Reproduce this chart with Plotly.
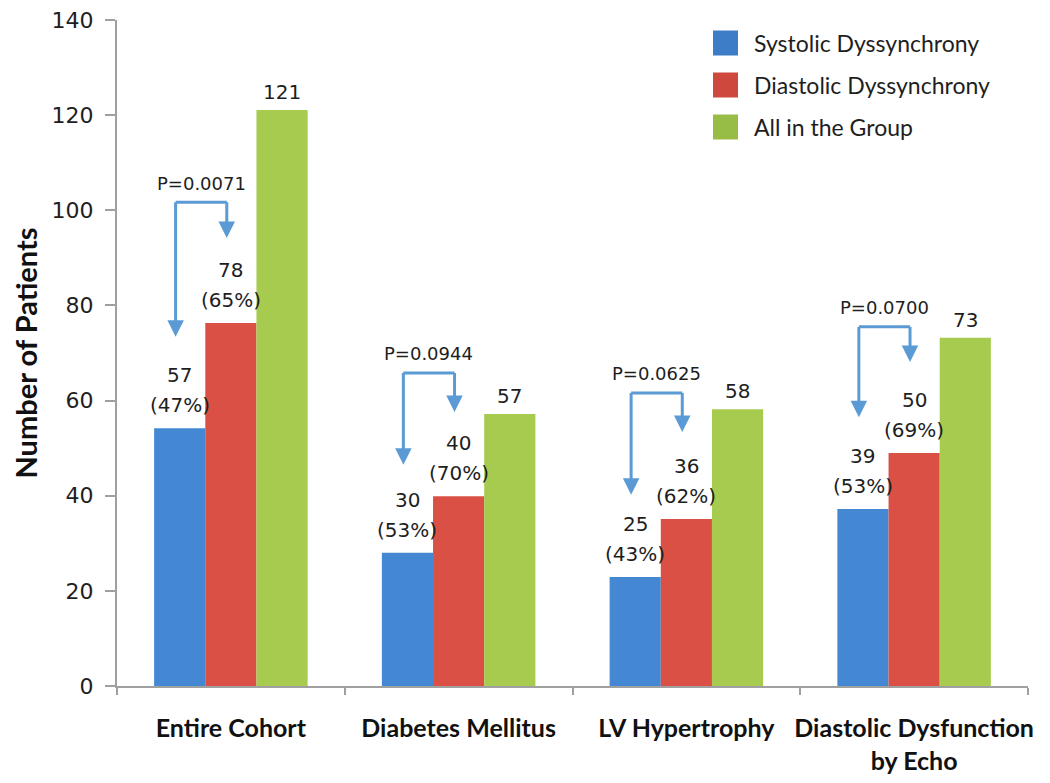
import plotly.graph_objects as go

# ---- data ----
categories = ["Entire Cohort", "Diabetes Mellitus", "LV Hypertrophy", "Diastolic Dysfunction<br>by Echo"]
series_names = ["Systolic Dyssynchrony", "Diastolic Dyssynchrony", "All in the Group"]
systolic = [54.2, 28.0, 22.9, 37.2]
diastolic = [76.3, 39.9, 35.1, 49.0]
all_group = [121.1, 57.2, 58.2, 73.2]
systolic_counts = [57, 30, 25, 39]
diastolic_counts = [78, 40, 36, 50]
all_counts = [121, 57, 58, 73]
systolic_pct = [47, 53, 43, 53]
diastolic_pct = [65, 70, 62, 69]
p_values = ["0.0071", "0.0944", "0.0625", "0.0700"]
bracket_top = [101.7, 65.8, 61.6, 75.5]
systolic_arrow_tip = [73.4, 46.5, 40.2, 56.5]
diastolic_arrow_tip = [94.2, 57.6, 53.4, 68.1]
y_ticks = [0, 20, 40, 60, 80, 100, 120, 140]

# ---- style ----
bar_colors = ["#4487D3", "#DA5045", "#A6CB4E"]
legend_colors = ["#3D7DC8", "#CF483E", "#98BD47"]
arrow_color = "#5B9BD5"
axis_color = "#A0A0A0"
text_color = "#1E1E1E"
num_font = "DejaVu Sans"
label_font = "Lato"
BARGAP = 0.326
bw = (1 - BARGAP) / 3

# page offset (default body margin) and target plot-area in window pixels
OFF = 8
W, H = 1050 - OFF, 783 - OFF
PL, PR, PT, PB = 117, 1028, 20, 686
L = PL - OFF
R = W - (PR - OFF)
T = PT - OFF
B = H - (PB - OFF)
pw, ph = PR - PL, PB - PT

def px(x):
    return (x - PL) / pw

def py(y):
    return (PB - y) / ph

fig = go.Figure()
for name, vals, col in zip(series_names, [systolic, diastolic, all_group], bar_colors):
    fig.add_trace(go.Bar(x=categories, y=vals, name=name, showlegend=False,
                         marker=dict(color=col, line=dict(width=0))))

annotations = []
shapes = []
for i in range(len(categories)):
    xb, xr, xg = i - bw, i, i + bw
    annotations += [
        dict(x=xb, y=systolic[i], text=str(systolic_counts[i]), yshift=53),
        dict(x=xb, y=systolic[i], text=f"({systolic_pct[i]}%)", yshift=23),
        dict(x=xr, y=diastolic[i], text=str(diastolic_counts[i]), yshift=53),
        dict(x=xr, y=diastolic[i], text=f"({diastolic_pct[i]}%)", yshift=23),
        dict(x=xg, y=all_group[i], text=str(all_counts[i]), yshift=18),
    ]
    x_left = i - bw - 0.018
    x_right = i - 0.018
    shapes.append(dict(type="line", xref="x", yref="y", x0=x_left, x1=x_right,
                       y0=bracket_top[i], y1=bracket_top[i],
                       line=dict(color=arrow_color, width=3)))
    for xa, tip in [(x_left, systolic_arrow_tip[i]), (x_right, diastolic_arrow_tip[i])]:
        annotations.append(dict(x=xa, y=tip, ax=xa, ay=bracket_top[i] + 0.3, axref="x", ayref="y",
                                text="", showarrow=True, arrowhead=2, arrowsize=1.1,
                                arrowwidth=3, arrowcolor=arrow_color, standoff=0, startstandoff=0))
    annotations.append(dict(x=(x_left + x_right) / 2, y=bracket_top[i], text="P=" + p_values[i],
                            yshift=19, font=dict(family=num_font, size=18, color=text_color)))

for a in annotations:
    a.setdefault("xref", "x")
    a.setdefault("yref", "y")
    a.setdefault("showarrow", False)
    a.setdefault("yanchor", "middle")
    a.setdefault("font", dict(family=num_font, size=20, color=text_color))

# manual legend (large swatches)
for k, (name, col) in enumerate(zip(series_names, legend_colors)):
    cy = 43 + 42 * k
    shapes.append(dict(type="rect", xref="paper", yref="paper",
                       x0=px(713), x1=px(738), y0=py(cy + 12.5), y1=py(cy - 12.5),
                       fillcolor=col, line=dict(width=0)))
    annotations.append(dict(xref="paper", yref="paper", x=px(752), y=py(cy), text=name,
                            xanchor="left", yanchor="middle", showarrow=False,
                            font=dict(family=label_font, size=23, color=text_color)))

fig.update_layout(
    width=W, height=H,
    margin=dict(l=L, r=R, t=T, b=B, autoexpand=False),
    paper_bgcolor="white", plot_bgcolor="white",
    barmode="group", bargap=BARGAP, bargroupgap=0,
    annotations=annotations, shapes=shapes,
    showlegend=False,
    xaxis=dict(showgrid=False, zeroline=False, showline=True, linecolor=axis_color, linewidth=2,
               ticks="outside", tickson="boundaries", ticklen=7, tickcolor=axis_color, tickwidth=1.5,
               tickangle=0,
               tickfont=dict(family=label_font, size=25, color="#111111", weight="bold"),
               ticklabelstandoff=19, automargin=False),
    yaxis=dict(range=[0, 140], tickvals=y_ticks, showgrid=False, zeroline=False,
               showline=True, linecolor=axis_color, linewidth=2,
               ticks="outside", ticklen=10, tickcolor=axis_color, tickwidth=1.5,
               tickfont=dict(family=num_font, size=22, color=text_color),
               ticklabelstandoff=7, ticklabeloverflow="allow", automargin=False,
               title=dict(text="<b>Number of Patients</b>", standoff=20,
                          font=dict(family=label_font, size=29, color="#111111"))),
)

fig.write_html("out.html")
